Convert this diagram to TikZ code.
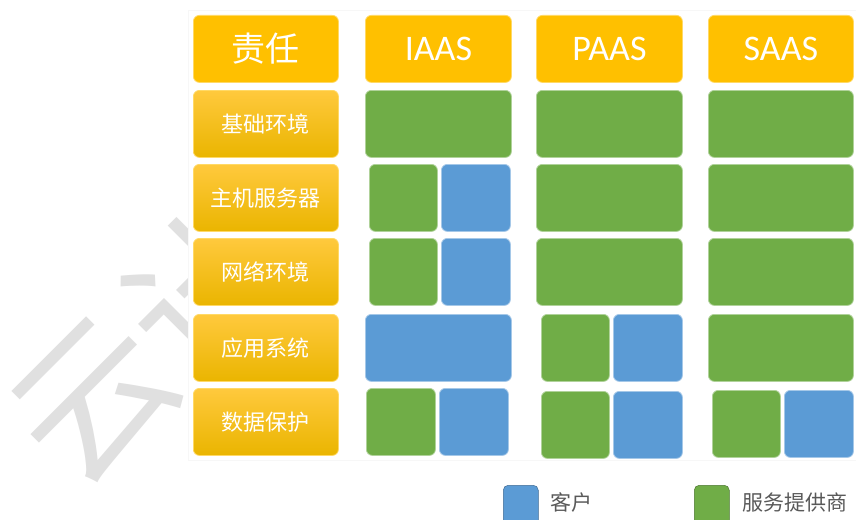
\documentclass[tikz,border=0pt]{standalone}
\usepackage{fontspec}
\setmainfont{Carlito}
\newfontfamily\cjk{Noto Sans CJK SC}
\definecolor{hdr}{HTML}{FFC000}
\definecolor{hdrtop}{HTML}{FFC93D}
\definecolor{hdrbot}{HTML}{EAB500}
\definecolor{grn}{HTML}{70AD47}
\definecolor{blu}{HTML}{5B9BD5}
\definecolor{wmark}{HTML}{E0E0E0}
\definecolor{lgtxt}{HTML}{595959}
\tikzset{
  cell/.style={rounded corners=6pt, inner sep=0pt, anchor=north west, minimum height=67pt, line width=0.8pt},
  gcell/.style={cell, fill=grn, draw=grn!55!white},
  bcell/.style={cell, fill=blu, draw=blu!55!white},
  hcell/.style={cell, fill=hdr, draw=hdr!60!white, text=white, font=\fontsize{36}{36}\selectfont},
  lcell/.style={cell, top color=hdrtop, middle color=hdr, bottom color=hdrbot, draw=hdr!60!white, text=white, font=\cjk\fontsize{22}{22}\selectfont, minimum width=145pt},
  legtext/.style={anchor=west, inner sep=0pt, text=lgtxt, font=\cjk\fontsize{21}{21}\selectfont},
  wmtext/.style={rotate=45, inner sep=0pt, text=wmark, font=\cjk\fontsize{156}{156}\selectfont}
}
\begin{document}
\begin{tikzpicture}[x=1pt,y=-1pt]
\useasboundingbox (0,0) rectangle (856,519);
\clip (0,0) rectangle (856,519);
\fill[white] (0,0) rectangle (856,519);
% watermark (behind the table)
\node[wmtext] (wm1) at (95,401) {云};
\node[wmtext] (wm2) at (205,291) {计};
% table background
\fill[white, draw=black!3] (188,10) rectangle (858,460);
% header
\node[hcell, minimum width=145pt, font=\cjk\fontsize{34}{34}\selectfont] (hResp) at (193,15) {责任};
\node[hcell, minimum width=146pt] (hI) at (365,15) {IAAS};
\node[hcell, minimum width=146pt] (hP) at (536,15) {PAAS};
\node[hcell, minimum width=145pt] (hS) at (708,15) {SAAS};
% row labels
\node[lcell] (r1) at (193,90) {基础环境};
\node[lcell] (r2) at (193,164) {主机服务器};
\node[lcell] (r3) at (193,238) {网络环境};
\node[lcell] (r4) at (193,314) {应用系统};
\node[lcell] (r5) at (193,388) {数据保护};
% row 1
\node[gcell, minimum width=146pt] (i1) at (365,90) {};
\node[gcell, minimum width=146pt] (p1) at (536,90) {};
\node[gcell, minimum width=145pt] (s1) at (708,90) {};
% row 2
\node[gcell, minimum width=68pt] (i2g) at (369,164) {};
\node[bcell, minimum width=69pt] (i2b) at (441,164) {};
\node[gcell, minimum width=146pt] (p2) at (536,164) {};
\node[gcell, minimum width=145pt] (s2) at (708,164) {};
% row 3
\node[gcell, minimum width=68pt] (i3g) at (369,238) {};
\node[bcell, minimum width=69pt] (i3b) at (441,238) {};
\node[gcell, minimum width=146pt] (p3) at (536,238) {};
\node[gcell, minimum width=145pt] (s3) at (708,238) {};
% row 4
\node[bcell, minimum width=146pt] (i4) at (365,314) {};
\node[gcell, minimum width=68pt] (p4g) at (541,314) {};
\node[bcell, minimum width=69pt] (p4b) at (613,314) {};
\node[gcell, minimum width=145pt] (s4) at (708,314) {};
% row 5
\node[gcell, minimum width=69pt] (i5g) at (366,388) {};
\node[bcell, minimum width=69pt] (i5b) at (439,388) {};
\node[gcell, minimum width=68pt] (p5g) at (541,391) {};
\node[bcell, minimum width=69pt] (p5b) at (613,391) {};
\node[gcell, minimum width=68pt] (s5g) at (712,390) {};
\node[bcell, minimum width=69pt] (s5b) at (784,390) {};
% legend
\node[cell, rounded corners=5pt, fill=blu, draw=blu!70!black, line width=0.5pt, minimum width=35pt, minimum height=40pt] (legB) at (503,485) {};
\node[legtext] (legBt) at (550,502) {客户};
\node[cell, rounded corners=5pt, fill=grn, draw=grn!70!black, line width=0.5pt, minimum width=35pt, minimum height=40pt] (legG) at (694,485) {};
\node[legtext] (legGt) at (742,502) {服务提供商};
\end{tikzpicture}
\end{document}
